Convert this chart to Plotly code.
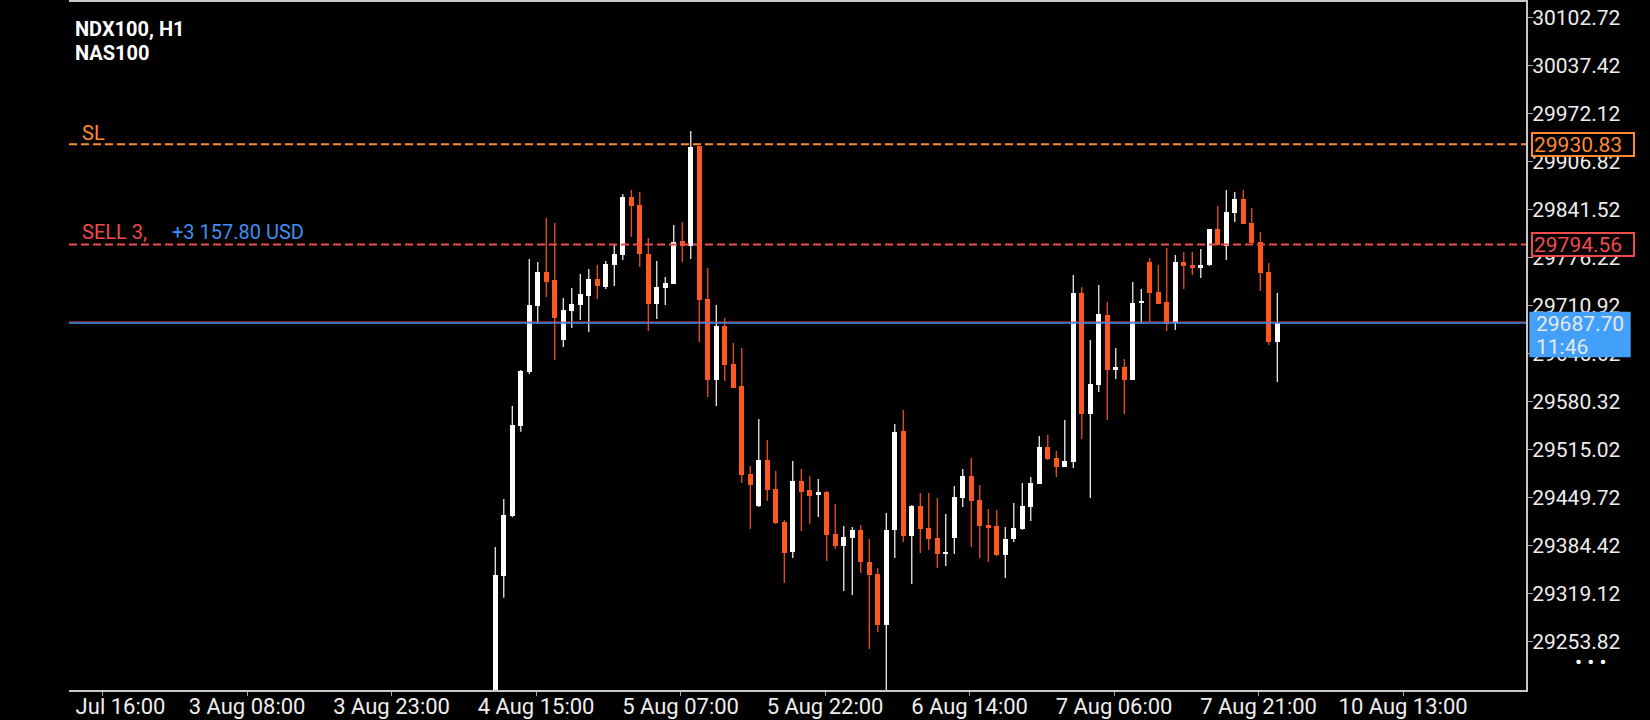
import plotly.graph_objects as go

# ---------------- data ----------------
opens = [29097.0, 29343.4, 29425.1, 29547.9, 29621.4, 29710.7, 29757.1, 29746.2, 29664.5, 29704.0,
         29712.2, 29724.4, 29747.5, 29736.6, 29766.5, 29780.1, 29859.1, 29848.2, 29781.5, 29713.5,
         29735.3, 29740.7, 29799.2, 29792.4, 29928.4, 29720.3, 29610.2, 29683.6, 29631.9, 29602.0,
         29482.3, 29438.7, 29501.3, 29461.8, 29416.9, 29376.2, 29472.7, 29460.5, 29453.7, 29457.7,
         29400.6, 29384.3, 29395.2, 29406.1, 29362.6, 29346.2, 29276.9, 29406.1, 29540.8, 29397.9,
         29438.7, 29408.8, 29395.2, 29373.4, 29395.2, 29449.5, 29479.5, 29446.8, 29412.8, 29411.5,
         29372.0, 29393.8, 29407.4, 29437.4, 29468.6, 29518.9, 29504.0, 29491.7, 29498.6, 29728.5,
         29563.8, 29603.3, 29698.6, 29623.7, 29627.8, 29610.2, 29716.2, 29770.7, 29729.9, 29716.2,
         29687.7, 29770.7, 29766.5, 29762.5, 29766.5, 29815.6, 29792.4, 29837.3, 29856.3, 29823.7,
         29797.8, 29757.1, 29661.8]
highs = [29382.9, 29448.2, 29574.7, 29623.6, 29774.7, 29770.7, 29830.5, 29823.7, 29721.6, 29735.3,
         29754.3, 29761.2, 29766.5, 29772.0, 29795.1, 29863.2, 29868.6, 29865.9, 29803.3, 29772.0,
         29750.3, 29821.0, 29825.0, 29948.8, 29928.4, 29762.5, 29712.2, 29694.4, 29660.4, 29653.7,
         29493.2, 29557.1, 29528.5, 29486.3, 29419.6, 29499.9, 29489.0, 29479.5, 29475.4, 29459.1,
         29441.4, 29411.5, 29410.1, 29412.8, 29393.8, 29354.4, 29429.2, 29550.2, 29569.3, 29440.1,
         29456.4, 29456.4, 29449.5, 29427.8, 29465.9, 29489.0, 29504.0, 29467.3, 29434.5, 29433.2,
         29410.1, 29442.8, 29470.0, 29478.1, 29533.9, 29535.2, 29513.5, 29555.8, 29752.9, 29736.6,
         29664.5, 29739.4, 29716.2, 29653.7, 29638.6, 29743.4, 29733.9, 29776.1, 29766.5, 29789.7,
         29780.1, 29784.2, 29784.2, 29788.4, 29815.6, 29846.9, 29868.6, 29865.9, 29868.6, 29844.1,
         29811.4, 29769.2, 29728.5]
lows = [29046.7, 29313.9, 29423.4, 29539.8, 29618.3, 29686.3, 29723.0, 29637.3, 29655.0, 29680.8,
        29691.7, 29675.4, 29720.3, 29733.9, 29738.0, 29773.4, 29804.7, 29763.8, 29676.8, 29693.1,
        29712.2, 29740.7, 29770.7, 29774.7, 29661.8, 29587.0, 29574.7, 29608.7, 29599.3, 29470.0,
        29407.4, 29437.4, 29445.5, 29414.2, 29334.0, 29368.0, 29404.7, 29414.2, 29423.7, 29363.9,
        29380.2, 29323.1, 29317.6, 29347.5, 29244.1, 29267.3, 29183.0, 29368.0, 29389.7, 29332.5,
        29374.7, 29378.9, 29354.4, 29357.1, 29373.4, 29437.4, 29382.9, 29368.0, 29362.6, 29370.7,
        29340.6, 29389.7, 29406.1, 29418.2, 29468.6, 29501.3, 29478.1, 29491.7, 29490.4, 29529.8,
        29449.5, 29593.8, 29555.8, 29611.5, 29563.8, 29610.2, 29686.3, 29689.0, 29713.5, 29676.8,
        29678.1, 29733.9, 29752.9, 29748.9, 29765.2, 29793.7, 29773.4, 29825.0, 29822.3, 29795.1,
        29731.2, 29657.7, 29607.4]
closes = [29344.8, 29426.5, 29548.9, 29622.3, 29712.2, 29757.1, 29743.5, 29694.4, 29705.3, 29713.5,
          29727.2, 29747.5, 29738.0, 29767.9, 29781.5, 29859.1, 29846.9, 29781.5, 29713.5, 29736.6,
          29742.1, 29797.8, 29792.4, 29927.1, 29718.9, 29610.2, 29683.6, 29630.5, 29599.3, 29480.9,
          29467.3, 29501.3, 29460.5, 29415.6, 29374.7, 29472.7, 29457.7, 29452.4, 29457.7, 29399.3,
          29384.3, 29396.6, 29406.1, 29362.6, 29344.8, 29276.9, 29406.1, 29539.4, 29397.9, 29438.7,
          29407.4, 29393.8, 29373.4, 29376.2, 29451.0, 29479.5, 29445.5, 29411.5, 29410.1, 29372.0,
          29393.8, 29408.8, 29438.7, 29470.0, 29518.9, 29502.6, 29491.7, 29499.9, 29728.5, 29563.8,
          29604.6, 29700.0, 29623.7, 29627.8, 29610.2, 29714.9, 29717.6, 29728.5, 29713.5, 29686.3,
          29770.7, 29765.2, 29762.5, 29766.5, 29815.6, 29793.7, 29838.7, 29856.3, 29822.3, 29796.4,
          29755.7, 29661.8, 29687.70]

# x axis: bar index positions of the time labels and their texts
x_tick_pos = [-46.2, -29.2, -12.2, 4.8, 21.8, 38.8, 55.8, 72.8, 89.8, 106.8]
x_tick_labels = ["\u2002\u2007\u2007Jul 16:00", "3 Aug 08:00", "3 Aug 23:00", "4 Aug 15:00",
                 "5 Aug 07:00", "5 Aug 22:00", "6 Aug 14:00", "7 Aug 06:00", "7 Aug 21:00",
                 "10 Aug 13:00"]
y_tick_vals = [30102.72, 30037.42, 29972.12, 29906.82, 29841.52, 29776.22, 29710.92,
               29645.62, 29580.32, 29515.02, 29449.72, 29384.42, 29319.12, 29253.82]
y_tick_labels = ["30102.72", "30037.42", "29972.12", "29906.82", "29841.52", "29776.22",
                 "29710.92", "29645.62", "29580.32", "29515.02", "29449.72", "29384.42",
                 "29319.12", "29253.82"]

sl_price = 29930.83
sell_price = 29794.56
bid_price = 29687.70
ask_price = 29689.05
symbol_line = "NDX100, H1"
name_line = "NAS100"
sl_text = "SL"
position_text = "SELL 3,"
profit_text = "+3 157.80 USD"
countdown_text = "11:46"

# ---------------- styles ----------------
BULL = "#ffffff"
BEAR = "#ff5722"
SL_COL = "#ff8a2e"
SELL_COL = "#f04b4b"
BLUE = "#3d8ff2"
BOX_BLUE = "#42a0fa"
AXIS_COL = "#c8c8c8"
TXT = "#eeeeee"
FONT = "Roboto"

PL, PR, PT, PB = 69, 1526, 2, 690
W, H = 1650, 720


def px_x(px):
    return (px - PL) / (PR - PL)


def px_y(py):
    return 1 - (py - PT) / (PB - PT)


idx = list(range(len(opens)))
is_bull = [c >= o for o, c in zip(opens, closes)]
body_base = [min(o, c) for o, c in zip(opens, closes)]
body_h = [max(abs(c - o), 1.2) for o, c in zip(opens, closes)]
body_col = [BULL if b else BEAR for b in is_bull]

fig = go.Figure()

for want, col in [(True, BULL), (False, BEAR)]:
    wx, wy = [], []
    for i, b in enumerate(is_bull):
        if b == want:
            wx += [i, i, None]
            wy += [lows[i], highs[i], None]
    fig.add_trace(go.Scatter(x=wx, y=wy, mode="lines", line=dict(color=col, width=1.2),
                             hoverinfo="skip", showlegend=False))

fig.add_trace(go.Bar(x=idx, y=body_h, base=body_base, width=0.6,
                     marker=dict(color=body_col, line=dict(width=0)),
                     showlegend=False))

shapes = [
    dict(type="line", xref="paper", x0=0, x1=1, yref="y", y0=sl_price, y1=sl_price,
         line=dict(color=SL_COL, width=2, dash="8px,4px"), layer="above"),
    dict(type="line", xref="paper", x0=0, x1=1, yref="y", y0=sell_price, y1=sell_price,
         line=dict(color=SELL_COL, width=2, dash="8px,4px"), layer="above"),
    dict(type="line", xref="paper", x0=0, x1=1, yref="y", y0=ask_price, y1=ask_price,
         line=dict(color="#e53935", width=1), layer="above"),
    dict(type="line", xref="paper", x0=0, x1=1, yref="y", y0=bid_price, y1=bid_price,
         line=dict(color=BLUE, width=1.5), layer="above"),
    dict(type="rect", xref="paper", x0=px_x(1529.3), x1=px_x(1630.7), yref="y",
         ysizemode="pixel", yanchor=bid_price, y0=-34.3, y1=11.3,
         fillcolor=BOX_BLUE, line=dict(width=0), layer="above"),
]

ann = [
    dict(text="<b>" + symbol_line + "</b>", xref="paper", yref="paper", x=px_x(72.5), y=px_y(29),
         xanchor="left", yanchor="middle", showarrow=False,
         font=dict(family=FONT, size=20, color="#ffffff")),
    dict(text="<b>" + name_line + "</b>", xref="paper", yref="paper", x=px_x(72.5), y=px_y(53),
         xanchor="left", yanchor="middle", showarrow=False,
         font=dict(family=FONT, size=20, color="#ffffff")),
    dict(text=sl_text, xref="paper", yref="y", x=px_x(80), y=sl_price, yshift=11.3,
         xanchor="left", yanchor="middle", showarrow=False,
         font=dict(family=FONT, size=20, color=SL_COL)),
    dict(text=position_text, xref="paper", yref="y", x=px_x(80), y=sell_price, yshift=12.4,
         xanchor="left", yanchor="middle", showarrow=False,
         font=dict(family=FONT, size=20, color=SELL_COL)),
    dict(text=profit_text, xref="paper", yref="y", x=px_x(170), y=sell_price, yshift=12.4,
         xanchor="left", yanchor="middle", showarrow=False,
         font=dict(family=FONT, size=20, color=BLUE)),
    dict(text=f"{sl_price:.2f}", xref="paper", yref="y", x=px_x(1530.5), y=sl_price,
         xanchor="left", yanchor="middle", showarrow=False, align="left",
         width=98, height=19, borderpad=1, borderwidth=2, bordercolor=SL_COL, bgcolor="#000000",
         font=dict(family=FONT, size=21, color=SL_COL)),
    dict(text=f"{sell_price:.2f}", xref="paper", yref="y", x=px_x(1530.5), y=sell_price,
         xanchor="left", yanchor="middle", showarrow=False, align="left",
         width=98, height=19, borderpad=1, borderwidth=2, bordercolor=SELL_COL, bgcolor="#000000",
         font=dict(family=FONT, size=21, color=SELL_COL)),
    dict(text=f"{bid_price:.2f}", xref="paper", yref="y", x=px_x(1534), y=bid_price, yshift=-1,
         xanchor="left", yanchor="middle", showarrow=False,
         font=dict(family=FONT, size=21, color="#e8e8e8")),
    dict(text=countdown_text, xref="paper", yref="y", x=px_x(1534), y=bid_price, yshift=-23.7,
         xanchor="left", yanchor="middle", showarrow=False,
         font=dict(family=FONT, size=21, color="#e8e8e8")),
    dict(text="\u2022 \u2022 \u2022", xref="paper", yref="paper", x=px_x(1591), y=px_y(661.7),
         xanchor="center", yanchor="middle", showarrow=False,
         font=dict(family=FONT, size=21, color="#ffffff")),
]

fig.update_layout(
    template="none",
    width=W, height=H,
    paper_bgcolor="#000000", plot_bgcolor="#000000",
    margin=dict(l=PL, r=W - PR, t=PT, b=H - PB, pad=0),
    showlegend=False,
    bargap=0,
    hovermode=False,
    shapes=shapes,
    annotations=ann,
    xaxis=dict(range=[-50.15, 121.26], tickmode="array", tickvals=x_tick_pos,
               ticktext=x_tick_labels, showgrid=False, zeroline=False,
               showline=True, linecolor=AXIS_COL, linewidth=2, mirror=True,
               ticks="outside", ticklen=4, tickwidth=1, tickcolor="#aaaaaa",
               ticklabelstandoff=-8,
               tickfont=dict(family=FONT, size=22, color=TXT), automargin=False,
               fixedrange=True),
    yaxis=dict(range=[29188.39, 30124.35], side="right", tickmode="array",
               tickvals=y_tick_vals, ticktext=y_tick_labels, showgrid=False,
               zeroline=False, showline=True, linecolor=AXIS_COL, linewidth=2,
               ticks="outside", ticklen=5, tickwidth=1, tickcolor="#aaaaaa",
               ticklabelstandoff=-5, ticklabeloverflow="allow",
               tickfont=dict(family=FONT, size=21, color=TXT), automargin=False,
               fixedrange=True),
)

fig.write_html("out.html", config={"displayModeBar": False},
               post_script="document.body.style.margin='0';document.body.style.overflow='hidden';")
